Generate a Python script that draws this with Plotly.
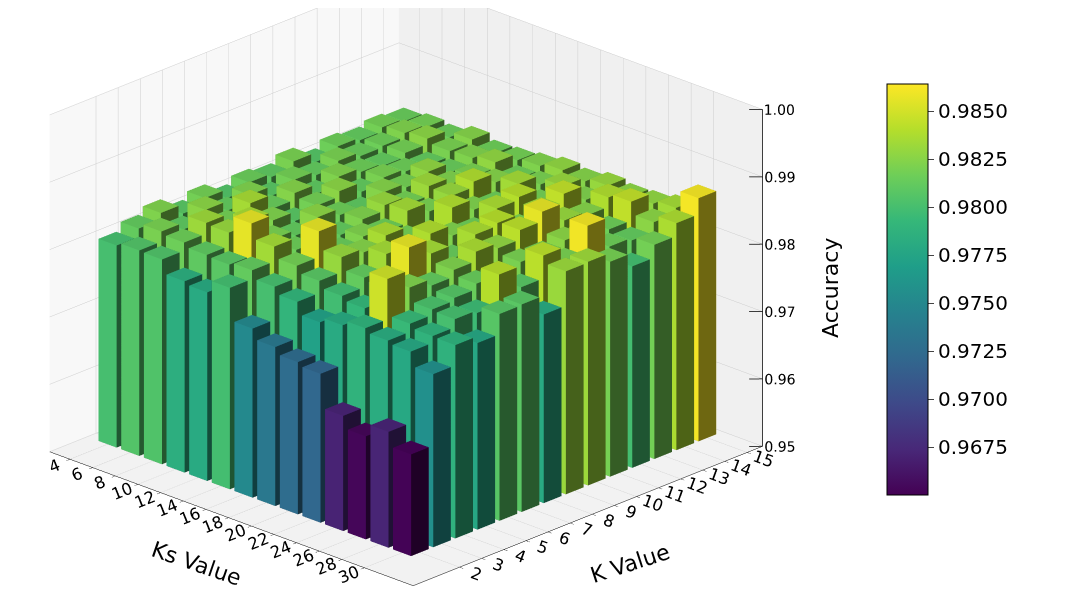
import plotly.graph_objects as go
from plotly.colors import sample_colorscale

# Ks values (rows) and K values (columns)
ks_values = [4, 6, 8, 10, 12, 14, 16, 18, 20, 22, 24, 26, 28, 30]
k_values = [2, 3, 4, 5, 6, 7, 8, 9, 10, 11, 12, 13, 14, 15]

# accuracy[i][j] -> Ks = ks_values[i], K = k_values[j]
acc_ks4 = [0.9800, 0.9812, 0.9822, 0.9808, 0.9818, 0.9805, 0.9815, 0.9810, 0.9820, 0.9806, 0.9816, 0.9812, 0.9818, 0.9814]
acc_ks6 = [0.9805, 0.9820, 0.9810, 0.9826, 0.9812, 0.9822, 0.9808, 0.9818, 0.9812, 0.9820, 0.9814, 0.9816, 0.9822, 0.9818]
acc_ks8 = [0.9804, 0.9816, 0.9832, 0.9818, 0.9835, 0.9814, 0.9824, 0.9810, 0.9822, 0.9816, 0.9812, 0.9818, 0.9826, 0.9815]
acc_ks10 = [0.9784, 0.9810, 0.9830, 0.9835, 0.9822, 0.9808, 0.9818, 0.9826, 0.9812, 0.9820, 0.9816, 0.9812, 0.9820, 0.9824]
acc_ks12 = [0.9780, 0.9808, 0.9856, 0.9820, 0.9812, 0.9826, 0.9816, 0.9810, 0.9824, 0.9818, 0.9828, 0.9814, 0.9822, 0.9816]
acc_ks14 = [0.9799, 0.9812, 0.9834, 0.9816, 0.9828, 0.9812, 0.9822, 0.9830, 0.9818, 0.9832, 0.9822, 0.9820, 0.9828, 0.9818]
acc_ks16 = [0.9751, 0.9800, 0.9818, 0.9856, 0.9814, 0.9822, 0.9816, 0.9834, 0.9820, 0.9830, 0.9838, 0.9824, 0.9816, 0.9822]
acc_ks18 = [0.9736, 0.9790, 0.9808, 0.9830, 0.9824, 0.9836, 0.9818, 0.9812, 0.9838, 0.9822, 0.9816, 0.9834, 0.9820, 0.9828]
acc_ks20 = [0.9726, 0.9772, 0.9798, 0.9812, 0.9834, 0.9816, 0.9838, 0.9822, 0.9816, 0.9836, 0.9840, 0.9818, 0.9830, 0.9824]
acc_ks22 = [0.9721, 0.9780, 0.9792, 0.9808, 0.9856, 0.9834, 0.9814, 0.9836, 0.9840, 0.9820, 0.9832, 0.9844, 0.9822, 0.9830]
acc_ks24 = [0.9671, 0.9788, 0.9848, 0.9822, 0.9812, 0.9822, 0.9836, 0.9828, 0.9842, 0.9856, 0.9830, 0.9824, 0.9838, 0.9826]
acc_ks26 = [0.9653, 0.9782, 0.9794, 0.9802, 0.9806, 0.9814, 0.9812, 0.9820, 0.9818, 0.9826, 0.9822, 0.9816, 0.9844, 0.9828]
acc_ks28 = [0.9672, 0.9778, 0.9788, 0.9800, 0.9796, 0.9840, 0.9808, 0.9842, 0.9820, 0.9860, 0.9816, 0.9812, 0.9826, 0.9834]
acc_ks30 = [0.9651, 0.9757, 0.9787, 0.9777, 0.9807, 0.9808, 0.9780, 0.9831, 0.9832, 0.9819, 0.9799, 0.9818, 0.9837, 0.9861]

accuracy = [acc_ks4, acc_ks6, acc_ks8, acc_ks10, acc_ks12, acc_ks14, acc_ks16,
            acc_ks18, acc_ks20, acc_ks22, acc_ks24, acc_ks26, acc_ks28, acc_ks30]

z_ticks = [0.95, 0.96, 0.97, 0.98, 0.99, 1.00]
cbar_ticks = [0.9675, 0.9700, 0.9725, 0.9750, 0.9775, 0.9800, 0.9825, 0.9850]

x_range = [2.2, 34.3]
y_range = [-0.1, 15.7]
z_range = [0.95, 1.0]
vmin, vmax = 0.9650, 0.9864
half_x, half_y = 0.8, 0.4

# shading per face, roughly like matplotlib's bar3d light source
shade = {"bottom": 0.5, "top": 0.93, "ymin": 1.0, "xmax": 0.45, "ymax": 0.6, "xmin": 0.75}
faces = [("bottom", (0, 1, 2)), ("bottom", (0, 2, 3)),
         ("top", (4, 5, 6)), ("top", (4, 6, 7)),
         ("ymin", (0, 1, 5)), ("ymin", (0, 5, 4)),
         ("xmax", (1, 2, 6)), ("xmax", (1, 6, 5)),
         ("ymax", (2, 3, 7)), ("ymax", (2, 7, 6)),
         ("xmin", (3, 0, 4)), ("xmin", (3, 4, 7))]

xs, ys, zs, ii, jj, kk, fcol = [], [], [], [], [], [], []
for r, ks in enumerate(ks_values):
    for c, k in enumerate(k_values):
        val = accuracy[r][c]
        t = min(max((val - vmin) / (vmax - vmin), 0), 1)
        rgb = sample_colorscale("Viridis", [t], colortype="tuple")[0]
        x0, x1 = ks - half_x, ks + half_x
        y0, y1 = k - half_y, k + half_y
        n = len(xs)
        for z in (z_range[0], val):
            xs += [x0, x1, x1, x0]
            ys += [y0, y0, y1, y1]
            zs += [z, z, z, z]
        for name, (a, b, d) in faces:
            ii.append(n + a)
            jj.append(n + b)
            kk.append(n + d)
            s = shade[name]
            fcol.append("rgb(%d,%d,%d)" % tuple(round(255 * ch * s) for ch in rgb))

bars = go.Mesh3d(x=xs, y=ys, z=zs, i=ii, j=jj, k=kk, facecolor=fcol,
                 flatshading=True, hoverinfo="skip",
                 lighting=dict(ambient=1, diffuse=0, specular=0, roughness=1, fresnel=0))

# invisible trace that only carries the colorbar
cbar = go.Scatter3d(
    x=[17], y=[8], z=[0.96], mode="markers", hoverinfo="skip", showlegend=False,
    marker=dict(size=0.1, opacity=0, color=[vmin], cmin=vmin, cmax=vmax,
                colorscale="Viridis", showscale=True,
                colorbar=dict(x=0.805, xanchor="left", y=0.540, yanchor="middle",
                              len=0.703, lenmode="fraction", thickness=41,
                              outlinewidth=1, outlinecolor="black",
                              tickvals=cbar_ticks, ticktext=["%.4f" % v for v in cbar_ticks],
                              ticks="outside", ticklen=6,
                              tickfont=dict(size=20, color="black"))))

# z axis drawn on the right-hand corner, as matplotlib does here
zx, zy = x_range[1], y_range[1]
zline_x, zline_y, zline_z = [zx, zx], [zy, zy], [z_range[0], z_range[1]]
for v in z_ticks:
    zline_x += [None, zx, zx - 0.6]
    zline_y += [None, zy, zy - 0.3]
    zline_z += [None, v, v]
zaxis_line = go.Scatter3d(x=zline_x, y=zline_y, z=zline_z, mode="lines",
                          line=dict(color="black", width=1.5), hoverinfo="skip",
                          showlegend=False)
zaxis_text = go.Scatter3d(x=[zx - 0.5] * len(z_ticks), y=[zy - 0.25] * len(z_ticks), z=z_ticks,
                          mode="text", text=["%.2f" % v for v in z_ticks],
                          textposition="middle right", hoverinfo="skip", showlegend=False,
                          textfont=dict(size=14, color="black", family="DejaVu Sans"))

fig = go.Figure(data=[bars, zaxis_line, zaxis_text, cbar])

axis_common = dict(showbackground=True, gridcolor="rgb(205,205,205)", gridwidth=1,
                   showline=True, linecolor="black", linewidth=1,
                   ticks="outside", ticklen=5, tickcolor="black",
                   zeroline=False, showspikes=False, title=dict(text=""),
                   tickfont=dict(size=14, color="black"))

title_font = dict(size=22, color="black", family="DejaVu Sans")

fig.update_layout(
    width=1080, height=613,
    margin=dict(l=0, r=0, t=0, b=0),
    paper_bgcolor="white",
    font=dict(family="DejaVu Sans", color="black"),
    scene=dict(
        domain=dict(x=[0, 0.75], y=[0, 1]),
        xaxis=dict(axis_common, range=x_range, tickvals=ks_values,
                   backgroundcolor="rgb(248,248,248)"),
        yaxis=dict(axis_common, range=y_range, tickvals=k_values,
                   backgroundcolor="rgb(240,240,240)"),
        zaxis=dict(axis_common, showline=False, ticks="", showticklabels=False,
                   range=z_range, tickvals=z_ticks, backgroundcolor="rgb(242,242,242)"),
        aspectmode="manual", aspectratio=dict(x=1.645, y=1.645, z=1.19),
        camera=dict(eye=dict(x=0.80, y=-0.80, z=0.35), center=dict(x=0.016, y=0.016, z=-0.12),
                    up=dict(x=0, y=0, z=1), projection=dict(type="orthographic")),
    ),
    annotations=[
        dict(text="Accuracy", x=823 / 1080, y=1 - 280 / 613, xref="paper", yref="paper",
             xanchor="center", yanchor="middle", showarrow=False, textangle=-90,
             font=title_font),
        dict(text="Ks Value", x=188 / 1080, y=1 - 555 / 613, xref="paper", yref="paper",
             xanchor="center", yanchor="middle", showarrow=False, textangle=19,
             font=title_font),
        dict(text="K Value", x=622 / 1080, y=1 - 555 / 613, xref="paper", yref="paper",
             xanchor="center", yanchor="middle", showarrow=False, textangle=-18,
             font=title_font),
    ],
)

fig.write_html("out.html")
